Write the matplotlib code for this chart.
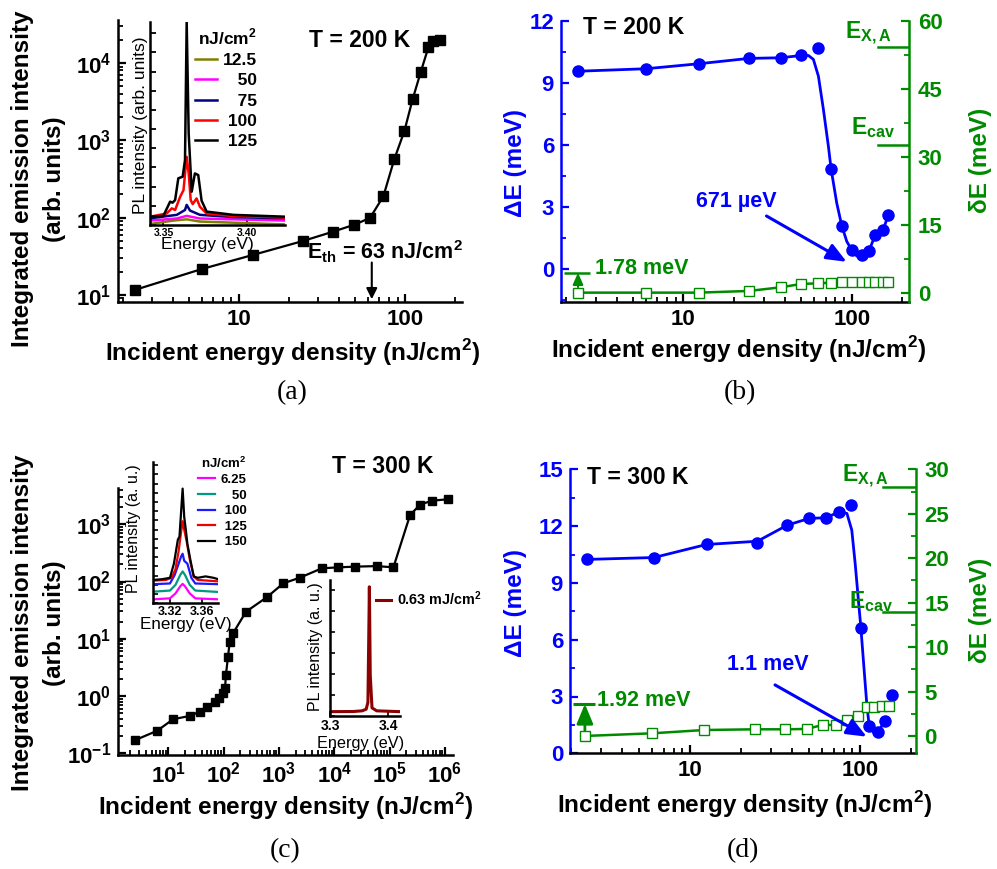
import matplotlib
matplotlib.use('Agg')
import matplotlib.pyplot as plt
from matplotlib.ticker import MultipleLocator, LogLocator, NullFormatter, FixedLocator, FixedFormatter

plt.rcParams['font.family'] = ['Liberation Sans', 'DejaVu Sans']
plt.rcParams['font.weight'] = 'bold'
plt.rcParams['xtick.direction'] = 'in'
plt.rcParams['ytick.direction'] = 'in'
plt.rcParams['axes.linewidth'] = 1.8

BLUE = '#0000ff'
GREEN = '#008a00'

# ---- (a) T = 200 K, integrated emission vs energy density
a_dens = [2.36, 5.96, 12.2, 24.4, 37, 49.5, 61.5, 74, 86, 99, 111, 124, 138, 148, 162]
a_int = [11.6, 21.6, 33, 50, 66, 81, 99, 189, 566, 1320, 3400, 7570, 15900, 19000, 20000]
a_eth = 63

# inset (a): PL spectra at 200 K
a_spec_labels = ['12.5', '   50', '   75', ' 100', ' 125']
a_spec_colors = ['#808000', '#ff00ff', '#000080', '#ff0000', '#000000']
a_spec_e = [
    [3.3421, 3.356, 3.3639, 3.3718, 3.4224],
    [3.3421, 3.358, 3.3639, 3.3718, 3.4224],
    [3.3421, 3.358, 3.3629, 3.3639, 3.3659, 3.3718, 3.3917, 3.4224],
    [3.3421, 3.352, 3.355, 3.357, 3.360, 3.362, 3.3639, 3.3651, 3.3663, 3.3675, 3.3698,
     3.3718, 3.3758, 3.3917, 3.4224],
    [3.3421, 3.350, 3.352, 3.354, 3.3555, 3.357, 3.3589, 3.3615, 3.3629, 3.3639, 3.3651,
     3.3669, 3.3688, 3.3708, 3.3728, 3.3758, 3.3917, 3.4224],
]
a_spec_i = [
    [0.5, 2.2, 2.8, 1.7, 0.3],
    [2.2, 3.2, 4.5, 3.2, 2.2],
    [3.3, 5.0, 7.4, 9.9, 7.1, 5.0, 3.9, 3.3],
    [4.1, 5.7, 8.2, 7.4, 13.9, 17.2, 33.6, 25.4, 12.3, 10.3, 13.1, 9.0, 5.7, 4.4, 3.7],
    [4.1, 4.5, 8, 11.5, 11, 12.3, 23, 23.8, 32, 100, 45, 16.4, 25.4, 24.6, 12, 6.6, 5, 4.1],
]

# ---- (b) T = 200 K, splitting and linewidth
b_dens = [2.36, 5.98, 12.3, 24.5, 37.9, 50.0, 63.4, 75.4, 87.3, 100, 114.7, 127, 137.6, 154, 165]
b_dE = [9.56, 9.68, 9.92, 10.18, 10.21, 10.32, 10.66, 4.85, 2.10, 0.93, 0.67, 0.90, 1.63, 1.90, 2.63]
b_dw = [0, 0, 0, 0.37, 1.18, 1.91, 2.06, 2.2, 2.36, 2.36, 2.36, 2.36, 2.36, 2.36, 2.36]
b_fit_x = [2.36, 5.98, 12.3, 24.5, 37.9, 50.0, 55.3, 59.2, 63.4, 67.9, 72.7, 75.4, 81.5, 87.3,
           93.5, 100, 107, 114.7, 127, 137.6, 154, 165]
b_fit_y = [9.56, 9.68, 9.92, 10.18, 10.21, 10.32, 10.32, 10.13, 9.32, 7.71, 5.93, 4.85, 3.19, 2.10,
           1.34, 0.93, 0.64, 0.67, 0.90, 1.63, 1.90, 2.63]
b_bar = 4.4
b_exa, b_ecav = 54.1, 32.6

# ---- (c) T = 300 K, integrated emission vs energy density
c_dens = [2.53, 6.33, 12.2, 24.4, 37, 50.7, 69, 81.5, 97.5, 106, 110, 120, 129, 148, 254, 601,
          1200, 2400, 5940, 11900, 23800, 58600, 117000, 234000, 355000, 579000, 1150000]
c_int = [0.17, 0.248, 0.393, 0.449, 0.533, 0.652, 0.797, 0.914, 1.14, 1.36, 2.33, 4.86, 8.9, 12.5,
         29.7, 53, 93, 117, 170, 177, 182, 186, 177, 1450, 2200, 2580, 2740]

# inset 1 of (c): PL spectra at 300 K
c_spec_labels = ['6.25', '   50', ' 100', ' 125', ' 150']
c_spec_colors = ['#ff00ff', '#009a80', '#1a1aff', '#ee0000', '#000000']
c_spec_e = [
    [3.299, 3.32, 3.327, 3.333, 3.336, 3.339, 3.345, 3.352, 3.381],
    [3.299, 3.32, 3.327, 3.333, 3.336, 3.339, 3.345, 3.352, 3.381],
    [3.299, 3.32, 3.326, 3.331, 3.334, 3.336, 3.338, 3.342, 3.347, 3.352, 3.381],
    [3.299, 3.315, 3.322, 3.327, 3.331, 3.334, 3.336, 3.338, 3.341, 3.345, 3.35, 3.355, 3.381],
    [3.299, 3.31, 3.32, 3.325, 3.33, 3.332, 3.334, 3.336, 3.338, 3.34, 3.342, 3.346, 3.35,
     3.355, 3.365, 3.375, 3.381],
]
c_spec_i = [
    [2.8, 3.5, 7, 12, 13.7, 12, 7, 3.5, 2.8],
    [8.2, 9, 13, 20, 22.5, 20, 13, 9, 8],
    [13.5, 14, 20, 28, 33, 35, 30, 28, 18, 14, 13.5],
    [16, 16.5, 18, 24, 37, 50, 58, 52, 44, 31, 19, 16.5, 15.5],
    [16.5, 17, 18, 28, 45, 47, 64, 81, 61, 52, 42, 30, 19, 18, 19, 18, 17],
]

# inset 2 of (c): spectrum at 0.63 mJ/cm2
c2_e = [3.30, 3.34, 3.355, 3.362, 3.365, 3.3665, 3.3675, 3.369, 3.372, 3.38, 3.42]
c2_i = [3.2, 3.3, 3.8, 5, 10, 60, 95, 30, 6, 3.8, 3.2]

# ---- (d) T = 300 K, splitting and linewidth
d_dens = [2.47, 6.14, 12.5, 24.9, 37.3, 50.3, 63, 75.5, 88, 101, 113, 127, 140, 153.5]
d_dE = [10.24, 10.34, 11.03, 11.12, 12.05, 12.41, 12.44, 12.76, 13.11, 6.64, 1.46, 1.1, 1.73, 3.1]
d_dens_sq = [2.41, 6.0, 12.1, 24.1, 36.2, 48.6, 60.2, 72.2, 84.2, 97.7, 109.4, 120.8, 134, 148.6]
d_dw = [0, 0.3, 0.67, 0.75, 0.75, 0.79, 1.24, 1.24, 1.8, 2.25, 3.22, 3.3, 3.37, 3.37]
d_fit_x = [2.47, 6.14, 12.5, 24.9, 37.3, 50.3, 63, 75.5, 83.6, 89.3, 93.5, 97.7, 101, 105.6,
           109.4, 113, 119.7, 127, 140]
d_fit_y = [10.24, 10.34, 11.03, 11.2, 12.05, 12.41, 12.44, 12.76, 12.67, 11.79, 10.02, 8.08, 6.64,
           4.38, 2.61, 1.46, 1.11, 1.1, 1.73]
d_bar = 3.6
d_exa, d_ecav = 28.0, 13.9

W, H = 997, 869
fig = plt.figure(figsize=(W / 100, H / 100), dpi=100)


def box(l, t, r, b):
    return [l / W, 1 - b / H, (r - l) / W, (b - t) / H]


def ticks(ax, size=16):
    ax.tick_params(which='major', length=6, width=1.6, labelsize=size, pad=5)
    ax.tick_params(which='minor', length=3.5, width=1.3)


XLAB = r'Incident energy density (nJ/cm$^{\mathdefault{2}}$)'


def ylab(yc):
    fig.text(23 / W, 1 - yc / H, 'Integrated emission intensity', rotation=90,
             ha='center', va='center', fontsize=17.5)
    fig.text(55 / W, 1 - yc / H, '(arb. units)', rotation=90,
             ha='center', va='center', fontsize=17.5)


# ================= (a)
ax = fig.add_axes(box(118, 20, 462, 302))
ax.plot(a_dens, a_int, '-s', color='k', lw=1.6, ms=7)
ax.set_xscale('log')
ax.set_yscale('log')
ax.set_xlim(1.87, 220)
ax.set_ylim(8.1, 36000)
ax.spines[['top', 'right']].set_visible(False)
ax.xaxis.set_major_locator(FixedLocator([10, 100]))
ax.xaxis.set_major_formatter(FixedFormatter(['10', '100']))
ax.xaxis.set_minor_formatter(NullFormatter())
ticks(ax)
ax.annotate('', xy=(a_eth, 8.1), xytext=(a_eth, 28.5),
            arrowprops=dict(arrowstyle='-|>', color='k', lw=1.5, mutation_scale=16))
ax.text(0.775, 0.177, r'E$_{\mathdefault{th}}$ = 63 nJ/cm$^{\mathdefault{2}}$',
        transform=ax.transAxes, ha='center', va='center', fontsize=15.5)
ax.text(0.7035, 0.929, 'T = 200 K', transform=ax.transAxes, ha='center', va='center', fontsize=16.5)
ylab(179)
fig.text(292.5 / W, 1 - 353 / H, XLAB, ha='center', va='center', fontsize=17.5)

# inset (a)
ai = fig.add_axes(box(150, 22, 285, 225), facecolor='none')
for e, i, c, lab in zip(a_spec_e, a_spec_i, a_spec_colors, a_spec_labels):
    ai.plot(e, i, color=c, lw=1.8, label=lab)
ai.set_xlim(3.342, 3.4226)
ai.set_ylim(0, 100)
ai.spines[['top', 'right']].set_visible(False)
ai.set_xticks([3.35, 3.40])
ai.set_xticklabels(['3.35', '3.40'])
ai.yaxis.set_major_locator(MultipleLocator(9.45))
ai.set_yticklabels([])
ai.tick_params(length=4, width=1.3, labelsize=7.5, pad=2)
ai.set_xlabel('Energy (eV)', fontsize=12.5)
ai.set_ylabel('PL intensity (arb. units)', fontsize=12.5)
ai.xaxis.set_label_coords(0.426, -0.0985)
ai.yaxis.set_label_coords(-0.074, 0.4926)
ai.xaxis.label.set_va('center')
ai.yaxis.label.set_va('center')
ai.legend(loc='upper left', bbox_to_anchor=(0.335, 0.975), frameon=False, fontsize=12.5,
          title=r'nJ/cm$^{\mathdefault{2}}$', title_fontsize=12.5, handlelength=1.25,
          handletextpad=0.35, labelspacing=0.3, borderpad=0, borderaxespad=0, alignment='right')

# ================= (b)
bx = fig.add_axes(box(561, 20.7, 909.3, 301.7))
bx.plot(b_fit_x, b_fit_y, '-', color=BLUE, lw=2)
bx.plot(b_dens, b_dE, 'o', color=BLUE, ms=8)
bx.set_xscale('log')
bx.set_xlim(1.87, 220)
bx.set_ylim(-1.57, 12)
bx.spines[['top', 'right']].set_visible(False)
bx.spines['left'].set_color(BLUE)
bx.xaxis.set_major_locator(FixedLocator([10, 100]))
bx.xaxis.set_major_formatter(FixedFormatter(['10', '100']))
bx.xaxis.set_minor_formatter(NullFormatter())
bx.yaxis.set_major_locator(FixedLocator([0, 3, 6, 9, 12]))
bx.yaxis.set_minor_locator(MultipleLocator(1.5))
ticks(bx)
bx.tick_params(axis='y', which='both', colors=BLUE)
bx2 = bx.twinx()
bx2.plot(b_dens, b_dw, '-s', color=GREEN, mfc='white', mec=GREEN, ms=6.5, mew=1, lw=1.8)
bx2.set_ylim(-2, 60)
bx2.spines[['top', 'left', 'bottom']].set_visible(False)
bx2.spines['right'].set_color(GREEN)
bx2.yaxis.set_major_locator(FixedLocator([0, 15, 30, 45, 60]))
bx2.yaxis.set_minor_locator(MultipleLocator(7.5))
ticks(bx2)
bx2.tick_params(axis='y', which='both', colors=GREEN, pad=6)
bx2.hlines(b_bar, 1.94, 2.79, color=GREEN, lw=1.8)
bx2.annotate('', xy=(b_dens[0], b_bar), xytext=(b_dens[0], b_dw[0]),
             arrowprops=dict(arrowstyle='-|>,head_length=0.5,head_width=0.22', color=GREEN,
                             lw=1.5, mutation_scale=14, shrinkA=4, shrinkB=0))
bx2.axhline(b_exa, xmin=0.911, xmax=1.0, color=GREEN, lw=1.8)
bx2.axhline(b_ecav, xmin=0.911, xmax=1.0, color=GREEN, lw=1.8)
bx2.text(0.884, 0.955, r'E$_{\mathdefault{X,A}}$', transform=bx2.transAxes, ha='center',
         va='center', fontsize=16.5, color=GREEN)
bx2.text(0.896, 0.618, r'E$_{\mathdefault{cav}}$', transform=bx2.transAxes, ha='center',
         va='center', fontsize=16.5, color=GREEN)
bx2.text(0.2317, 0.1164, '1.78 meV', transform=bx2.transAxes, ha='center', va='center',
         fontsize=15.5, color=GREEN)
bx2.text(0.502, 0.356, '671 µeV', transform=bx2.transAxes, ha='center', va='center',
         fontsize=15.5, color=BLUE)
bx2.annotate('', xy=(0.820, 0.142), xytext=(0.590, 0.305), xycoords='axes fraction',
             arrowprops=dict(arrowstyle='-|>,head_length=0.6,head_width=0.25', color=BLUE,
                             lw=2.2, mutation_scale=20, shrinkA=0, shrinkB=0))
bx2.text(0.2077, 0.975, 'T = 200 K', transform=bx2.transAxes, ha='center', va='center',
         fontsize=16.5)
fig.text(515 / W, 1 - 163 / H, 'ΔE (meV)', rotation=90, ha='center', va='center',
         fontsize=17.5, color=BLUE)
fig.text(980 / W, 1 - 160 / H, 'δE (meV)', rotation=90, ha='center', va='center',
         fontsize=17.5, color=GREEN)
fig.text(739 / W, 1 - 350 / H, XLAB, ha='center', va='center', fontsize=17.5)

# ================= (c)
cx = fig.add_axes(box(118.3, 488.3, 453, 755))
cx.plot(c_dens, c_int, '-s', color='k', lw=1.6, ms=6)
cx.set_xscale('log')
cx.set_yscale('log')
cx.set_xlim(1.25, 10 ** 6.145)
cx.set_ylim(10 ** -1.03, 4250)
cx.spines[['top', 'right']].set_visible(False)
cx.xaxis.set_major_locator(LogLocator(base=10, numticks=20))
cx.xaxis.set_minor_locator(LogLocator(base=10, subs=range(2, 10), numticks=100))
cx.xaxis.set_minor_formatter(NullFormatter())
cx.yaxis.set_minor_locator(LogLocator(base=10, subs=range(2, 10), numticks=100))
cx.yaxis.set_minor_formatter(NullFormatter())
ticks(cx)
fig.text(383 / W, 1 - 466.7 / H, 'T = 300 K', ha='center', va='center', fontsize=16.5)
ylab(623)
fig.text(286 / W, 1 - 806.7 / H, XLAB, ha='center', va='center', fontsize=17.5)

# inset 1 of (c)
ci = fig.add_axes(box(153.3, 461.7, 218.3, 603.3), facecolor='none')
for e, i, c, lab in zip(c_spec_e, c_spec_i, c_spec_colors, c_spec_labels):
    ci.plot(e, i, color=c, lw=1.6, label=lab)
ci.set_xlim(3.299, 3.381)
ci.set_ylim(0, 100)
ci.spines[['top', 'right']].set_visible(False)
ci.set_xticks([3.32, 3.36])
ci.set_xticklabels(['3.32', '3.36'])
ci.yaxis.set_major_locator(MultipleLocator(6.5))
ci.set_yticklabels([])
ci.tick_params(length=3.5, width=1.2, labelsize=9, pad=2)
ci.set_xlabel('Energy (eV)', fontsize=12.3)
ci.set_ylabel('PL intensity (a. u.)', fontsize=11.5)
ci.xaxis.set_label_coords(0.498, -0.153)
ci.yaxis.set_label_coords(-0.312, 0.525)
ci.xaxis.label.set_va('center')
ci.yaxis.label.set_va('center')
ci.legend(loc='upper left', bbox_to_anchor=(0.69, 1.045), frameon=False, fontsize=9.5,
          title=r'nJ/cm$^{\mathdefault{2}}$', title_fontsize=9.5, handlelength=1.3,
          handletextpad=0.4, labelspacing=0.25, borderpad=0, borderaxespad=0, alignment='right')

# inset 2 of (c)
cj = fig.add_axes(box(330, 580, 400, 716), facecolor='none')
cj.plot(c2_e, c2_i, color='#8b0000', lw=2.2, label='0.63 mJ/cm$^{\\mathdefault{2}}$')
cj.set_xlim(3.3, 3.42)
cj.set_ylim(0, 100)
cj.spines[['top', 'right']].set_visible(False)
cj.set_xticks([3.3, 3.4])
cj.set_xticklabels(['3.3', '3.4'])
cj.yaxis.set_major_locator(MultipleLocator(15.4))
cj.set_yticklabels([])
cj.tick_params(length=3.5, width=1.2, labelsize=10, pad=2)
cj.set_xlabel('Energy (eV)', fontsize=11.7)
cj.set_ylabel('PL intensity (a. u.)', fontsize=11.5)
cj.xaxis.set_label_coords(0.43, -0.2)
cj.yaxis.set_label_coords(-0.214, 0.51)
cj.xaxis.label.set_va('center')
cj.yaxis.label.set_va('center')
cj.legend(loc='upper left', bbox_to_anchor=(0.65, 0.93), frameon=False, fontsize=10.4,
          handlelength=1.1, handletextpad=0.4, borderpad=0, borderaxespad=0)

# ================= (d)
dx = fig.add_axes(box(570, 469.3, 916, 753.3))
dx.plot(d_fit_x, d_fit_y, '-', color=BLUE, lw=2)
dx.plot(d_dens, d_dE, 'o', color=BLUE, ms=8)
dx.set_xscale('log')
dx.set_xlim(1.97, 213)
dx.set_ylim(0, 15)
dx.spines[['top', 'right']].set_visible(False)
dx.spines['left'].set_color(BLUE)
dx.xaxis.set_major_locator(FixedLocator([10, 100]))
dx.xaxis.set_major_formatter(FixedFormatter(['10', '100']))
dx.xaxis.set_minor_formatter(NullFormatter())
dx.yaxis.set_major_locator(FixedLocator([0, 3, 6, 9, 12, 15]))
dx.yaxis.set_minor_locator(MultipleLocator(1.5))
ticks(dx)
dx.tick_params(axis='y', which='both', colors=BLUE)
dx2 = dx.twinx()
dx2.plot(d_dens_sq, d_dw, '-s', color=GREEN, mfc='white', mec=GREEN, ms=6.5, mew=1, lw=1.8)
dx2.set_ylim(-1.95, 30)
dx2.spines[['top', 'left', 'bottom']].set_visible(False)
dx2.spines['right'].set_color(GREEN)
dx2.yaxis.set_major_locator(FixedLocator([0, 5, 10, 15, 20, 25, 30]))
dx2.yaxis.set_minor_locator(MultipleLocator(2.5))
ticks(dx2)
dx2.tick_params(axis='y', which='both', colors=GREEN, pad=6)
dx2.hlines(d_bar, 2.06, 2.76, color=GREEN, lw=2.2)
dx2.annotate('', xy=(d_dens_sq[0], d_bar), xytext=(d_dens_sq[0], d_dw[0]),
             arrowprops=dict(arrowstyle='-|>,head_length=0.6,head_width=0.25', color=GREEN,
                             lw=2, mutation_scale=20, shrinkA=4, shrinkB=0))
dx2.axhline(d_exa, xmin=0.904, xmax=1.0, color=GREEN, lw=1.8)
dx2.axhline(d_ecav, xmin=0.904, xmax=1.0, color=GREEN, lw=1.8)
dx2.text(0.855, 0.975, r'E$_{\mathdefault{X,A}}$', transform=dx2.transAxes, ha='center',
         va='center', fontsize=16.5, color=GREEN)
dx2.text(0.870, 0.534, r'E$_{\mathdefault{cav}}$', transform=dx2.transAxes, ha='center',
         va='center', fontsize=16.5, color=GREEN)
dx2.text(0.214, 0.185, '1.92 meV', transform=dx2.transAxes, ha='center', va='center',
         fontsize=15.5, color=GREEN)
dx2.text(0.573, 0.311, '1.1 meV', transform=dx2.transAxes, ha='center', va='center',
         fontsize=15.5, color=BLUE)
dx2.annotate('', xy=(0.8575, 0.0585), xytext=(0.5925, 0.2408), xycoords='axes fraction',
             arrowprops=dict(arrowstyle='-|>,head_length=0.6,head_width=0.25', color=BLUE,
                             lw=2.2, mutation_scale=20, shrinkA=0, shrinkB=0))
dx2.text(0.195, 0.972, 'T = 300 K', transform=dx2.transAxes, ha='center', va='center',
         fontsize=16.5)
fig.text(515 / W, 1 - 603 / H, 'ΔE (meV)', rotation=90, ha='center', va='center',
         fontsize=17.5, color=BLUE)
fig.text(980 / W, 1 - 610 / H, 'δE (meV)', rotation=90, ha='center', va='center',
         fontsize=17.5, color=GREEN)
fig.text(745 / W, 1 - 805 / H, XLAB, ha='center', va='center', fontsize=17.5)

# captions
for lab, x, y in [('(a)', 292, 393), ('(b)', 740, 393), ('(c)', 285, 851), ('(d)', 743, 851)]:
    fig.text(x / W, 1 - y / H, lab, ha='center', va='center', fontsize=20,
             family='Liberation Serif', weight='normal')

fig.savefig('out.png', dpi=100)
